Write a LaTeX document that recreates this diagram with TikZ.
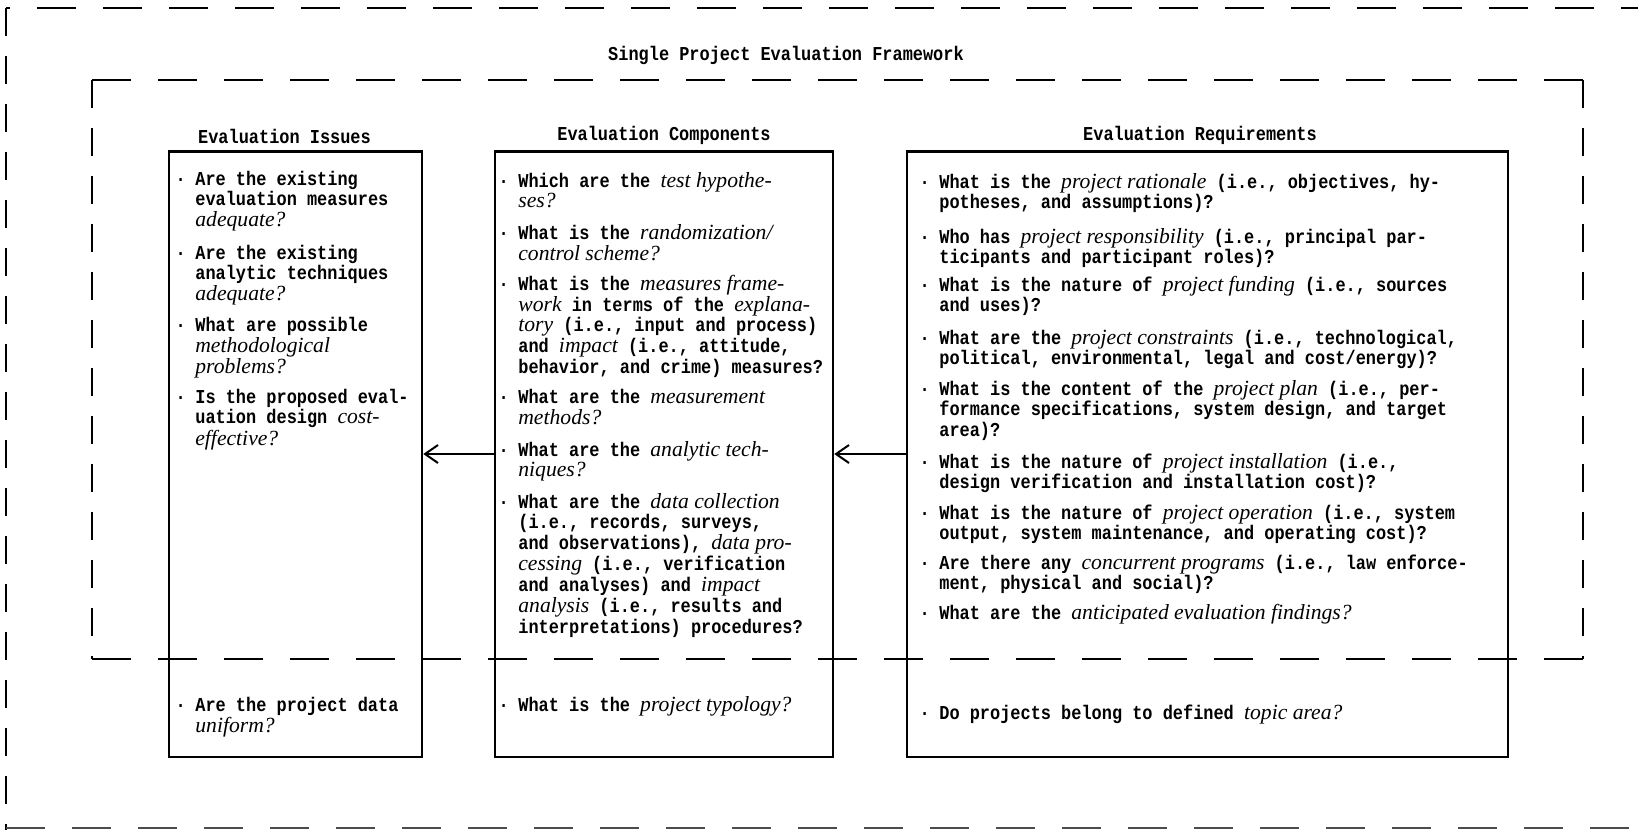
\documentclass[tikz,border=0pt]{standalone}
\usepackage{fontspec}
\setmainfont{Liberation Serif}
\setmonofont{Liberation Mono}[FakeStretch=0.86]
\newfontfamily\emfont{Liberation Serif}[Scale=1.1]
\usepackage{tikz}
\usetikzlibrary{positioning,arrows.meta}
\newcommand{\ital}[1]{{\emfont\mdseries\itshape #1}}
\newcommand{\qitem}[1]{\llap{·\hspace{1.9mm}}\begin{tabular}[t]{@{}l@{}}#1\end{tabular}}
\tikzset{
  hdash/.style={line width=0.55mm,dash pattern=on 7.8mm off 5.4mm},
  vdash/.style={line width=0.55mm,dash pattern=on 5.6mm off 4mm},
  colbox/.style={draw,line width=0.5mm,inner sep=0pt},
  flow/.style={-{Straight Barb[length=2.6mm,width=3.6mm]},line width=0.4mm},
  hdr/.style={font=\ttfamily\bfseries\fontsize{11.2}{12}\selectfont,inner sep=0pt},
  qtxt/.style={font=\ttfamily\bfseries\fontsize{11.2}{11.8}\selectfont,inner sep=0pt,anchor=base west},
}
\begin{document}
\begin{tikzpicture}[x=0.2mm,y=-0.2mm]
  \useasboundingbox (0,0) rectangle (1638,829);
  \clip (0,0) rectangle (1638,829);
  % outer frame (runs off the page)
  \draw[hdash] (1660,8) -- (6,8);
  \draw[vdash] (6,8) -- (6,850);
  \draw[hdash,black!70] (6,828) -- (1660,828);
  \node[hdr] (title) at (786,55) {Single Project Evaluation Framework};
  % inner frame
  \draw[hdash] (92,80) -- (1583,80);
  \draw[hdash] (92,659) -- (1583,659);
  \draw[vdash] (92,80) -- (92,659);
  \draw[vdash] (1583,80) -- (1583,659);
  % columns
  \node[colbox,minimum width=50.6mm,minimum height=121.1mm] (iss) at (295.5,454) {};
  \node[colbox,minimum width=67.6mm,minimum height=121.1mm] (cmp) at (664,454) {};
  \node[colbox,minimum width=120.2mm,minimum height=121.1mm] (req) at (1207.5,454) {};
  \node[hdr,above=1.1mm of iss.north,xshift=-2.2mm] (isshd) {Evaluation Issues};
  \node[hdr,above=1.1mm of cmp.north] (cmphd) {Evaluation Components};
  \node[hdr,above=1.1mm of req.north,xshift=-1.5mm] (reqhd) {Evaluation Requirements};
  \draw[flow] (req.west) -- (cmp.east);
  \draw[flow] (cmp.west) -- (iss.east);
  % issues
  \node[qtxt] (iss1) at (195,185) {\qitem{Are the existing\\evaluation measures\\\ital{adequate?}}};
  \node[qtxt] (iss2) at (195,259) {\qitem{Are the existing\\analytic techniques\\\ital{adequate?}}};
  \node[qtxt] (iss3) at (195,331) {\qitem{What are possible\\\ital{methodological}\\\ital{problems?}}};
  \node[qtxt] (iss4) at (195,403) {\qitem{Is the proposed eval-\\uation design \ital{cost-}\\\ital{effective?}}};
  \node[qtxt] (iss5) at (195,711) {\qitem{Are the project data\\\ital{uniform?}}};
  % components
  \node[qtxt] (cmp1) at (518,187) {\qitem{Which are the \ital{test hypothe-}\\\ital{ses?}}};
  \node[qtxt] (cmp2) at (518,239) {\qitem{What is the \ital{randomization/}\\\ital{control scheme?}}};
  \node[qtxt] (cmp3) at (518,290) {\qitem{What is the \ital{measures frame-}\\\ital{work} in terms of the \ital{explana-}\\\ital{tory} (i.e., input and process)\\and \ital{impact} (i.e., attitude,\\behavior, and crime) measures?}};
  \node[qtxt] (cmp4) at (518,403) {\qitem{What are the \ital{measurement}\\\ital{methods?}}};
  \node[qtxt] (cmp5) at (518,456) {\qitem{What are the \ital{analytic tech-}\\\ital{niques?}}};
  \node[qtxt] (cmp6) at (518,508) {\qitem{What are the \ital{data collection}\\(i.e., records, surveys,\\and observations), \ital{data pro-}\\\ital{cessing} (i.e., verification\\and analyses) and \ital{impact}\\\ital{analysis} (i.e., results and\\interpretations) procedures?}};
  \node[qtxt] (cmp7) at (518,711) {\qitem{What is the \ital{project typology?}}};
  % requirements
  \node[qtxt] (req1) at (939,188) {\qitem{What is the \ital{project rationale} (i.e., objectives, hy-\\potheses, and assumptions)?}};
  \node[qtxt] (req2) at (939,243) {\qitem{Who has \ital{project responsibility} (i.e., principal par-\\ticipants and participant roles)?}};
  \node[qtxt] (req3) at (939,291) {\qitem{What is the nature of \ital{project funding} (i.e., sources\\and uses)?}};
  \node[qtxt] (req4) at (939,344) {\qitem{What are the \ital{project constraints} (i.e., technological,\\political, environmental, legal and cost/energy)?}};
  \node[qtxt] (req5) at (939,395) {\qitem{What is the content of the \ital{project plan} (i.e., per-\\formance specifications, system design, and target\\area)?}};
  \node[qtxt] (req6) at (939,468) {\qitem{What is the nature of \ital{project installation} (i.e.,\\design verification and installation cost)?}};
  \node[qtxt] (req7) at (939,519) {\qitem{What is the nature of \ital{project operation} (i.e., system\\output, system maintenance, and operating cost)?}};
  \node[qtxt] (req8) at (939,569) {\qitem{Are there any \ital{concurrent programs} (i.e., law enforce-\\ment, physical and social)?}};
  \node[qtxt] (req9) at (939,619) {\qitem{What are the \ital{anticipated evaluation findings?}}};
  \node[qtxt] (req10) at (939,719) {\qitem{Do projects belong to defined \ital{topic area?}}};
\end{tikzpicture}
\end{document}
